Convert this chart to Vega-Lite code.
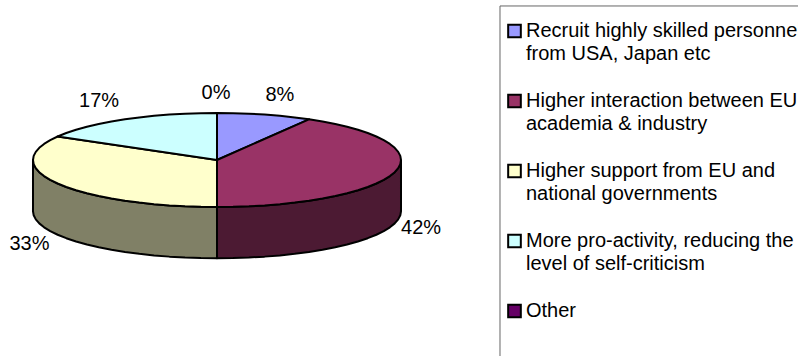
{"$schema":"https://vega.github.io/schema/vega-lite/v6.json","width":798,"height":356,"padding":0,"autosize":{"type":"none"},"background":"white","config":{"view":{"stroke":null},"font":"Liberation Sans"},
"datasets":{
"top":[
{"part":"Recruit highly skilled personnel|from USA, Japan etc","i":0,"x":0,"y":0},{"part":"Recruit highly skilled personnel|from USA, Japan etc","i":1,"x":0,"y":1},{"part":"Recruit highly skilled personnel|from USA, Japan etc","i":2,"x":0.0872,"y":0.9962},{"part":"Recruit highly skilled personnel|from USA, Japan etc","i":3,"x":0.1736,"y":0.9848},{"part":"Recruit highly skilled personnel|from USA, Japan etc","i":4,"x":0.2588,"y":0.9659},{"part":"Recruit highly skilled personnel|from USA, Japan etc","i":5,"x":0.342,"y":0.9397},{"part":"Recruit highly skilled personnel|from USA, Japan etc","i":6,"x":0.4226,"y":0.9063},{"part":"Recruit highly skilled personnel|from USA, Japan etc","i":7,"x":0.5,"y":0.866},{"part":"Recruit highly skilled personnel|from USA, Japan etc","i":8,"x":0,"y":0},
{"part":"Higher interaction between EU|academia & industry","i":0,"x":0,"y":0},{"part":"Higher interaction between EU|academia & industry","i":1,"x":0.5,"y":0.866},{"part":"Higher interaction between EU|academia & industry","i":2,"x":0.5736,"y":0.8192},{"part":"Higher interaction between EU|academia & industry","i":3,"x":0.6428,"y":0.766},{"part":"Higher interaction between EU|academia & industry","i":4,"x":0.7071,"y":0.7071},{"part":"Higher interaction between EU|academia & industry","i":5,"x":0.766,"y":0.6428},{"part":"Higher interaction between EU|academia & industry","i":6,"x":0.8192,"y":0.5736},{"part":"Higher interaction between EU|academia & industry","i":7,"x":0.866,"y":0.5},{"part":"Higher interaction between EU|academia & industry","i":8,"x":0.9063,"y":0.4226},{"part":"Higher interaction between EU|academia & industry","i":9,"x":0.9397,"y":0.342},{"part":"Higher interaction between EU|academia & industry","i":10,"x":0.9659,"y":0.2588},{"part":"Higher interaction between EU|academia & industry","i":11,"x":0.9848,"y":0.1736},{"part":"Higher interaction between EU|academia & industry","i":12,"x":0.9962,"y":0.0872},{"part":"Higher interaction between EU|academia & industry","i":13,"x":1,"y":0},{"part":"Higher interaction between EU|academia & industry","i":14,"x":0.9962,"y":-0.0872},{"part":"Higher interaction between EU|academia & industry","i":15,"x":0.9848,"y":-0.1736},{"part":"Higher interaction between EU|academia & industry","i":16,"x":0.9659,"y":-0.2588},{"part":"Higher interaction between EU|academia & industry","i":17,"x":0.9397,"y":-0.342},{"part":"Higher interaction between EU|academia & industry","i":18,"x":0.9063,"y":-0.4226},{"part":"Higher interaction between EU|academia & industry","i":19,"x":0.866,"y":-0.5},{"part":"Higher interaction between EU|academia & industry","i":20,"x":0.8192,"y":-0.5736},{"part":"Higher interaction between EU|academia & industry","i":21,"x":0.766,"y":-0.6428},{"part":"Higher interaction between EU|academia & industry","i":22,"x":0.7071,"y":-0.7071},{"part":"Higher interaction between EU|academia & industry","i":23,"x":0.6428,"y":-0.766},{"part":"Higher interaction between EU|academia & industry","i":24,"x":0.5736,"y":-0.8192},{"part":"Higher interaction between EU|academia & industry","i":25,"x":0.5,"y":-0.866},{"part":"Higher interaction between EU|academia & industry","i":26,"x":0.4226,"y":-0.9063},{"part":"Higher interaction between EU|academia & industry","i":27,"x":0.342,"y":-0.9397},{"part":"Higher interaction between EU|academia & industry","i":28,"x":0.2588,"y":-0.9659},{"part":"Higher interaction between EU|academia & industry","i":29,"x":0.1736,"y":-0.9848},{"part":"Higher interaction between EU|academia & industry","i":30,"x":0.0872,"y":-0.9962},{"part":"Higher interaction between EU|academia & industry","i":31,"x":0,"y":-1},{"part":"Higher interaction between EU|academia & industry","i":32,"x":0,"y":0},
{"part":"Higher support from EU and|national governments","i":0,"x":0,"y":0},{"part":"Higher support from EU and|national governments","i":1,"x":0,"y":-1},{"part":"Higher support from EU and|national governments","i":2,"x":-0.0872,"y":-0.9962},{"part":"Higher support from EU and|national governments","i":3,"x":-0.1736,"y":-0.9848},{"part":"Higher support from EU and|national governments","i":4,"x":-0.2588,"y":-0.9659},{"part":"Higher support from EU and|national governments","i":5,"x":-0.342,"y":-0.9397},{"part":"Higher support from EU and|national governments","i":6,"x":-0.4226,"y":-0.9063},{"part":"Higher support from EU and|national governments","i":7,"x":-0.5,"y":-0.866},{"part":"Higher support from EU and|national governments","i":8,"x":-0.5736,"y":-0.8192},{"part":"Higher support from EU and|national governments","i":9,"x":-0.6428,"y":-0.766},{"part":"Higher support from EU and|national governments","i":10,"x":-0.7071,"y":-0.7071},{"part":"Higher support from EU and|national governments","i":11,"x":-0.766,"y":-0.6428},{"part":"Higher support from EU and|national governments","i":12,"x":-0.8192,"y":-0.5736},{"part":"Higher support from EU and|national governments","i":13,"x":-0.866,"y":-0.5},{"part":"Higher support from EU and|national governments","i":14,"x":-0.9063,"y":-0.4226},{"part":"Higher support from EU and|national governments","i":15,"x":-0.9397,"y":-0.342},{"part":"Higher support from EU and|national governments","i":16,"x":-0.9659,"y":-0.2588},{"part":"Higher support from EU and|national governments","i":17,"x":-0.9848,"y":-0.1736},{"part":"Higher support from EU and|national governments","i":18,"x":-0.9962,"y":-0.0872},{"part":"Higher support from EU and|national governments","i":19,"x":-1,"y":0},{"part":"Higher support from EU and|national governments","i":20,"x":-0.9962,"y":0.0872},{"part":"Higher support from EU and|national governments","i":21,"x":-0.9848,"y":0.1736},{"part":"Higher support from EU and|national governments","i":22,"x":-0.9659,"y":0.2588},{"part":"Higher support from EU and|national governments","i":23,"x":-0.9397,"y":0.342},{"part":"Higher support from EU and|national governments","i":24,"x":-0.9063,"y":0.4226},{"part":"Higher support from EU and|national governments","i":25,"x":-0.866,"y":0.5},{"part":"Higher support from EU and|national governments","i":26,"x":0,"y":0},
{"part":"More pro-activity, reducing the|level of self-criticism","i":0,"x":0,"y":0},{"part":"More pro-activity, reducing the|level of self-criticism","i":1,"x":-0.866,"y":0.5},{"part":"More pro-activity, reducing the|level of self-criticism","i":2,"x":-0.8192,"y":0.5736},{"part":"More pro-activity, reducing the|level of self-criticism","i":3,"x":-0.766,"y":0.6428},{"part":"More pro-activity, reducing the|level of self-criticism","i":4,"x":-0.7071,"y":0.7071},{"part":"More pro-activity, reducing the|level of self-criticism","i":5,"x":-0.6428,"y":0.766},{"part":"More pro-activity, reducing the|level of self-criticism","i":6,"x":-0.5736,"y":0.8192},{"part":"More pro-activity, reducing the|level of self-criticism","i":7,"x":-0.5,"y":0.866},{"part":"More pro-activity, reducing the|level of self-criticism","i":8,"x":-0.4226,"y":0.9063},{"part":"More pro-activity, reducing the|level of self-criticism","i":9,"x":-0.342,"y":0.9397},{"part":"More pro-activity, reducing the|level of self-criticism","i":10,"x":-0.2588,"y":0.9659},{"part":"More pro-activity, reducing the|level of self-criticism","i":11,"x":-0.1736,"y":0.9848},{"part":"More pro-activity, reducing the|level of self-criticism","i":12,"x":-0.0872,"y":0.9962},{"part":"More pro-activity, reducing the|level of self-criticism","i":13,"x":0,"y":1},{"part":"More pro-activity, reducing the|level of self-criticism","i":14,"x":0,"y":0},
{"part":"Other","i":0,"x":0,"y":0},{"part":"Other","i":1,"x":0,"y":1}
],
"side":[
{"part":"front right","i":0,"x":1,"y":0},{"part":"front right","i":1,"x":0.9962,"y":-0.0872},{"part":"front right","i":2,"x":0.9848,"y":-0.1736},{"part":"front right","i":3,"x":0.9659,"y":-0.2588},{"part":"front right","i":4,"x":0.9397,"y":-0.342},{"part":"front right","i":5,"x":0.9063,"y":-0.4226},{"part":"front right","i":6,"x":0.866,"y":-0.5},{"part":"front right","i":7,"x":0.8192,"y":-0.5736},{"part":"front right","i":8,"x":0.766,"y":-0.6428},{"part":"front right","i":9,"x":0.7071,"y":-0.7071},{"part":"front right","i":10,"x":0.6428,"y":-0.766},{"part":"front right","i":11,"x":0.5736,"y":-0.8192},{"part":"front right","i":12,"x":0.5,"y":-0.866},{"part":"front right","i":13,"x":0.4226,"y":-0.9063},{"part":"front right","i":14,"x":0.342,"y":-0.9397},{"part":"front right","i":15,"x":0.2588,"y":-0.9659},{"part":"front right","i":16,"x":0.1736,"y":-0.9848},{"part":"front right","i":17,"x":0.0872,"y":-0.9962},{"part":"front right","i":18,"x":0,"y":-1},
{"part":"front right","i":19,"x":0,"y":-2.09},{"part":"front right","i":20,"x":0.0872,"y":-2.0862},{"part":"front right","i":21,"x":0.1736,"y":-2.0748},{"part":"front right","i":22,"x":0.2588,"y":-2.0559},{"part":"front right","i":23,"x":0.342,"y":-2.0297},{"part":"front right","i":24,"x":0.4226,"y":-1.9963},{"part":"front right","i":25,"x":0.5,"y":-1.956},{"part":"front right","i":26,"x":0.5736,"y":-1.9092},{"part":"front right","i":27,"x":0.6428,"y":-1.856},{"part":"front right","i":28,"x":0.7071,"y":-1.7971},{"part":"front right","i":29,"x":0.766,"y":-1.7328},{"part":"front right","i":30,"x":0.8192,"y":-1.6636},{"part":"front right","i":31,"x":0.866,"y":-1.59},{"part":"front right","i":32,"x":0.9063,"y":-1.5126},{"part":"front right","i":33,"x":0.9397,"y":-1.432},{"part":"front right","i":34,"x":0.9659,"y":-1.3488},{"part":"front right","i":35,"x":0.9848,"y":-1.2636},{"part":"front right","i":36,"x":0.9962,"y":-1.1772},{"part":"front right","i":37,"x":1,"y":-1.09},{"part":"front right","i":38,"x":1,"y":0},
{"part":"front left","i":0,"x":0,"y":-1},{"part":"front left","i":1,"x":-0.0872,"y":-0.9962},{"part":"front left","i":2,"x":-0.1736,"y":-0.9848},{"part":"front left","i":3,"x":-0.2588,"y":-0.9659},{"part":"front left","i":4,"x":-0.342,"y":-0.9397},{"part":"front left","i":5,"x":-0.4226,"y":-0.9063},{"part":"front left","i":6,"x":-0.5,"y":-0.866},{"part":"front left","i":7,"x":-0.5736,"y":-0.8192},{"part":"front left","i":8,"x":-0.6428,"y":-0.766},{"part":"front left","i":9,"x":-0.7071,"y":-0.7071},{"part":"front left","i":10,"x":-0.766,"y":-0.6428},{"part":"front left","i":11,"x":-0.8192,"y":-0.5736},{"part":"front left","i":12,"x":-0.866,"y":-0.5},{"part":"front left","i":13,"x":-0.9063,"y":-0.4226},{"part":"front left","i":14,"x":-0.9397,"y":-0.342},{"part":"front left","i":15,"x":-0.9659,"y":-0.2588},{"part":"front left","i":16,"x":-0.9848,"y":-0.1736},{"part":"front left","i":17,"x":-0.9962,"y":-0.0872},{"part":"front left","i":18,"x":-1,"y":0},
{"part":"front left","i":19,"x":-1,"y":-1.09},{"part":"front left","i":20,"x":-0.9962,"y":-1.1772},{"part":"front left","i":21,"x":-0.9848,"y":-1.2636},{"part":"front left","i":22,"x":-0.9659,"y":-1.3488},{"part":"front left","i":23,"x":-0.9397,"y":-1.432},{"part":"front left","i":24,"x":-0.9063,"y":-1.5126},{"part":"front left","i":25,"x":-0.866,"y":-1.59},{"part":"front left","i":26,"x":-0.8192,"y":-1.6636},{"part":"front left","i":27,"x":-0.766,"y":-1.7328},{"part":"front left","i":28,"x":-0.7071,"y":-1.7971},{"part":"front left","i":29,"x":-0.6428,"y":-1.856},{"part":"front left","i":30,"x":-0.5736,"y":-1.9092},{"part":"front left","i":31,"x":-0.5,"y":-1.956},{"part":"front left","i":32,"x":-0.4226,"y":-1.9963},{"part":"front left","i":33,"x":-0.342,"y":-2.0297},{"part":"front left","i":34,"x":-0.2588,"y":-2.0559},{"part":"front left","i":35,"x":-0.1736,"y":-2.0748},{"part":"front left","i":36,"x":-0.0872,"y":-2.0862},{"part":"front left","i":37,"x":0,"y":-2.09},{"part":"front left","i":38,"x":0,"y":-1}
],
"labels":[
{"label":"8%","x":0.342,"y":1.383},{"label":"42%","x":1.109,"y":-1.447},{"label":"33%","x":-1.019,"y":-1.787},{"label":"17%","x":-0.641,"y":1.262},{"label":"0%","x":-0.005,"y":1.426}
],
"box":[{"x":1.538,"x2":3.4,"y":3.277,"y2":-4.6}]
},
"layer":[
{"data":{"name":"box"},"mark":{"type":"rect","fill":"white","stroke":"#666666","strokeWidth":1,"clip":false},"encoding":{"x":{"field":"x","type":"quantitative","scale":{"domain":[-1.1793,3.1576],"nice":false,"zero":false},"axis":null},"x2":{"field":"x2"},"y":{"field":"y","type":"quantitative","scale":{"domain":[-4.1702,3.4043],"nice":false,"zero":false},"axis":null},"y2":{"field":"y2"}}},
{"data":{"name":"side"},"mark":{"type":"line","stroke":"black","strokeWidth":2,"strokeJoin":"round"},"encoding":{"x":{"field":"x","type":"quantitative"},"y":{"field":"y","type":"quantitative"},"order":{"field":"i","type":"quantitative"},"fill":{"field":"part","type":"nominal","scale":{"domain":["front right","front left"],"range":["#4C1A33","#808066"]},"legend":null}}},
{"data":{"name":"top"},"mark":{"type":"line","stroke":"black","strokeWidth":2,"strokeJoin":"round"},"encoding":{"x":{"field":"x","type":"quantitative"},"y":{"field":"y","type":"quantitative"},"order":{"field":"i","type":"quantitative"},"fill":{"field":"part","type":"nominal","scale":{"domain":["Recruit highly skilled personnel|from USA, Japan etc","Higher interaction between EU|academia & industry","Higher support from EU and|national governments","More pro-activity, reducing the|level of self-criticism","Other"],"range":["#9999FF","#993366","#FFFFCC","#CCFFFF","#660066"]},"legend":{"title":null,"orient":"none","legendX":504.5,"legendY":21,"symbolType":"square","symbolSize":160,"symbolStrokeColor":"black","symbolStrokeWidth":2,"symbolOpacity":1,"labelFont":"Liberation Sans","labelFontSize":20,"labelColor":"black","labelLimit":400,"labelOffset":1.5,"labelExpr":"split(datum.label,'|')","rowPadding":26,"padding":0,"encode":{"labels":{"update":{"lineHeight":{"value":23}}}}}}}},
{"data":{"name":"labels"},"mark":{"type":"text","fontSize":20,"font":"Liberation Sans","color":"black","align":"center","baseline":"middle"},"encoding":{"x":{"field":"x","type":"quantitative"},"y":{"field":"y","type":"quantitative"},"text":{"field":"label","type":"nominal"}}}
],
"resolve":{"scale":{"fill":"independent"}}}
